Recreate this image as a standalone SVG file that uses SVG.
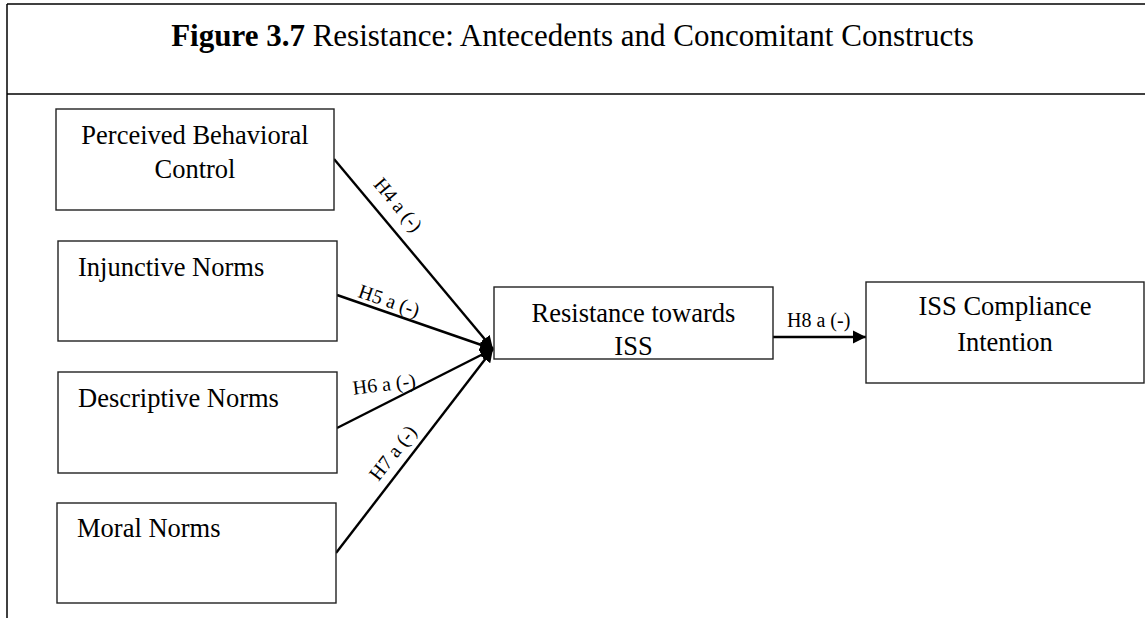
<svg xmlns="http://www.w3.org/2000/svg" width="1145" height="618" viewBox="0 0 1145 618">
<style>
  text { font-family: "Liberation Serif", "Times New Roman", serif; fill: #000; }
  .frame { stroke: #000; stroke-width: 1.5; fill: none; }
  .box { fill: #fff; stroke: #222; stroke-width: 1.4; }
  .lbl { font-size: 26.5px; }
  .hyp { font-size: 20px; }
  .conn { stroke: #000; stroke-width: 2.4; fill: none; marker-end: url(#arrow); }
</style>
<defs>
  <marker id="arrow" markerUnits="userSpaceOnUse" markerWidth="14" markerHeight="14" refX="13" refY="7" orient="auto">
    <path d="M0,0.5 L13,7 L0,13.5 z" fill="#000"/>
  </marker>
</defs>
<rect x="0" y="0" width="1145" height="618" fill="#fff"/>
<g id="frame">
  <line class="frame" x1="7" y1="4" x2="1145" y2="4"/>
  <line class="frame" x1="7" y1="94" x2="1145" y2="94"/>
  <line class="frame" x1="7" y1="4" x2="7" y2="618"/>
</g>
<g id="title">
  <text x="572.5" y="46" font-size="31" text-anchor="middle"><tspan font-weight="bold">Figure 3.7</tspan> Resistance: Antecedents and Concomitant Constructs</text>
</g>
<g id="connectors">
  <line class="conn" x1="334" y1="159" x2="493" y2="349"/>
  <line class="conn" x1="337" y1="295" x2="493" y2="349"/>
  <line class="conn" x1="337" y1="428" x2="493" y2="349"/>
  <line class="conn" x1="336" y1="553" x2="493" y2="349"/>
  <line class="conn" x1="773" y1="337" x2="866" y2="337" stroke-width="2.8"/>
  <text class="hyp" text-anchor="middle" transform="translate(393,209) rotate(50)">H4 a (-)</text>
  <text class="hyp" text-anchor="middle" transform="translate(387,307) rotate(19)">H5 a (-)</text>
  <text class="hyp" text-anchor="middle" transform="translate(385,391) rotate(-7)">H6 a (-)</text>
  <text class="hyp" text-anchor="middle" transform="translate(398,457) rotate(-52)">H7 a (-)</text>
  <text class="hyp" x="787" y="327">H8 a (-)</text>
</g>
<g id="pbc">
  <rect class="box" x="56" y="109" width="278" height="101"/>
  <text class="lbl" x="195" y="144" text-anchor="middle">Perceived Behavioral</text>
  <text class="lbl" x="195" y="178" text-anchor="middle">Control</text>
</g>
<g id="injunctive">
  <rect class="box" x="58" y="241" width="279" height="100"/>
  <text class="lbl" x="78" y="276">Injunctive Norms</text>
</g>
<g id="descriptive">
  <rect class="box" x="58" y="372" width="279" height="101"/>
  <text class="lbl" x="78" y="407">Descriptive Norms</text>
</g>
<g id="moral">
  <rect class="box" x="57" y="503" width="279" height="100"/>
  <text class="lbl" x="77" y="537">Moral Norms</text>
</g>
<g id="resistance">
  <rect class="box" x="494" y="287" width="279" height="72"/>
  <text class="lbl" x="633.5" y="322" text-anchor="middle">Resistance towards</text>
  <text class="lbl" x="633.5" y="355" text-anchor="middle">ISS</text>
</g>
<g id="compliance">
  <rect class="box" x="866" y="282" width="278" height="101"/>
  <text class="lbl" x="1005" y="315" text-anchor="middle">ISS Compliance</text>
  <text class="lbl" x="1005" y="351" text-anchor="middle">Intention</text>
</g>
</svg>
